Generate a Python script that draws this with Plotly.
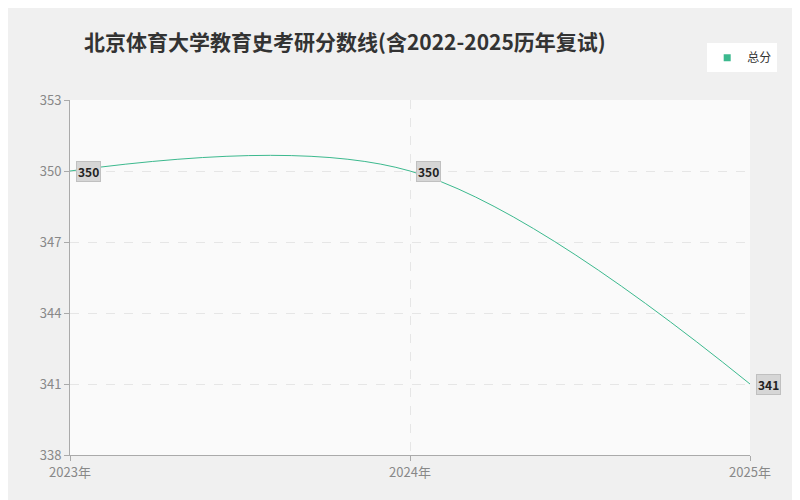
import plotly.graph_objects as go

years = ["2023年", "2024年", "2025年"]
scores = [350, 350, 341]
series_name = "总分"
title = "北京体育大学教育史考研分数线(含2022-2025历年复试)"
yticks = [338, 341, 344, 347, 350, 353]

color = "#3cb98e"
fig = go.Figure()
fig.add_trace(go.Scatter(x=list(range(len(years))), y=scores, mode="lines", name=series_name,
                         line=dict(color=color, width=1, shape="spline", smoothing=1.0),
                         showlegend=False))
fig.add_trace(go.Scatter(x=[None], y=[None], mode="markers", name=series_name,
                         marker=dict(symbol="square", size=7, color=color)))
for i, v in enumerate(scores):
    fig.add_annotation(x=i, y=v, text="<b>" + str(v) + "</b>", showarrow=False, xanchor="left", xshift=6,
                       bgcolor="#d6d6d6", bordercolor="#c0c0c0", borderwidth=1, borderpad=1,
                       font=dict(size=12, color="#222", family="Noto Sans CJK SC"))
fig.update_layout(
    width=800, height=500,
    paper_bgcolor="#f0f0f0", plot_bgcolor="#fafafa",
    margin=dict(l=62, r=58, t=92, b=53),
    title=dict(text="<b>" + title + "</b>", x=0.095, xanchor="left", y=0.945,
               font=dict(size=21, color="#333", family="Noto Sans CJK SC")),
    font=dict(family="Noto Sans CJK SC", color="#888", size=13),
    legend=dict(x=1.04, y=1.16, xanchor="right", yanchor="top", bgcolor="white",
                font=dict(size=12, color="#333", family="Noto Sans CJK SC"), itemwidth=30),
    xaxis=dict(range=[0, 2], tickvals=list(range(len(years))), ticktext=years,
               showgrid=True, gridcolor="#e6e6e6", griddash="dash", zeroline=False,
               showline=True, linecolor="#aaa", ticks="outside", ticklen=5, tickcolor="#aaa"),
    yaxis=dict(range=[338, 353], tickvals=yticks, showgrid=True, gridcolor="#e6e6e6",
               griddash="dash", zeroline=False, showline=True, linecolor="#aaa",
               ticks="outside", ticklen=5, tickcolor="#aaa"),
)
fig.write_html("out.html")
